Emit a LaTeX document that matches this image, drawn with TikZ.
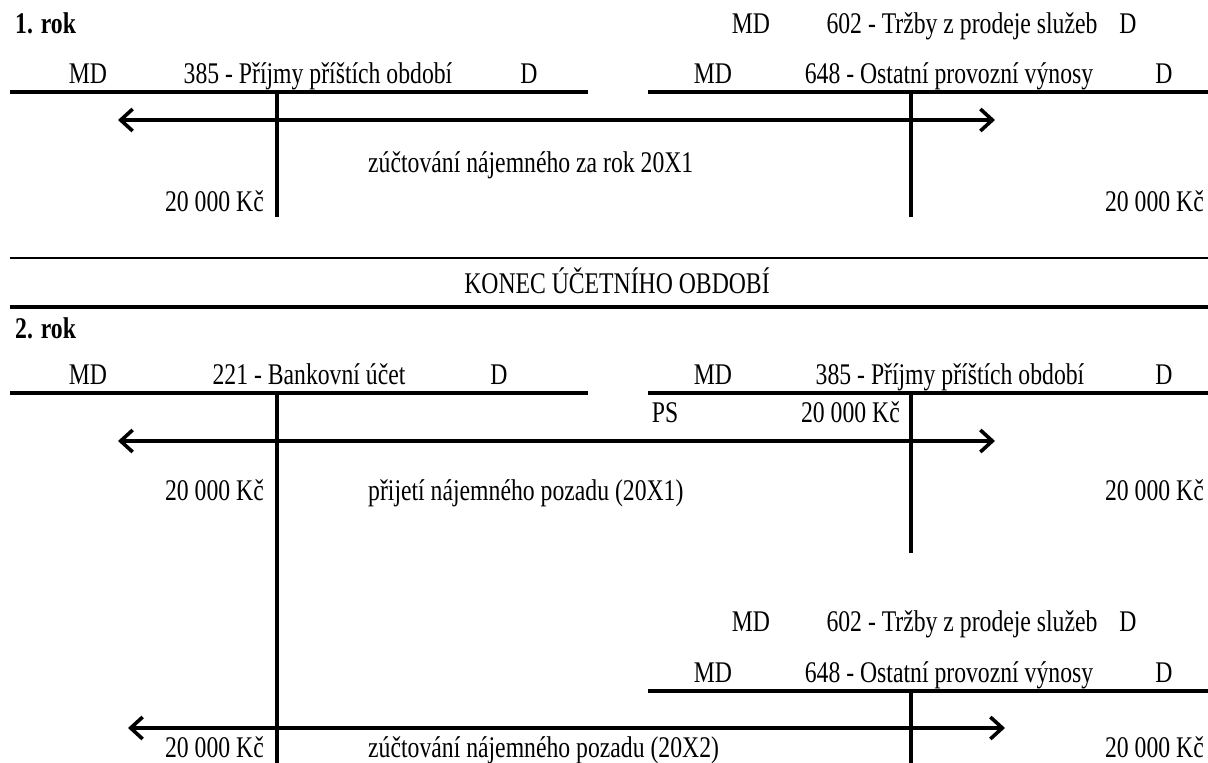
\documentclass[tikz,border=0pt]{standalone}
\usepackage{fontspec}
\setmainfont[FakeStretch=0.79]{Liberation Serif}
\usetikzlibrary{arrows.meta}
\begin{document}
\begin{tikzpicture}[x=1pt,y=-1pt,
  txt/.style={font=\fontsize{30}{32}\selectfont, inner sep=0pt, anchor=base},
  txtw/.style={txt, anchor=base west},
  txte/.style={txt, anchor=base east},
  bold/.style={txtw, font=\fontsize{30}{32}\selectfont\bfseries},
  tline/.style={line width=4pt},
  vline/.style={line width=3.2pt},
  flow/.style={line width=4.5pt, {Straight Barb[length=12pt,width=22pt,line width=3.6pt]}-{Straight Barb[length=12pt,width=22pt,line width=3.6pt]}}
]
\useasboundingbox (0,0) rectangle (1208,763);
% ---------- 1. rok ----------
\node[bold] (r1) at (15,33) {1. rok};
\node[txt] (t1md) at (751,33) {MD};
\node[txt] (t1ti) at (962,33) {602 - Tržby z prodeje služeb};
\node[txt] (t1d) at (1128,33) {D};
\node[txt] (a1md) at (88,83) {MD};
\node[txt] (a1ti) at (318,83) {385 - Příjmy příštích období};
\node[txt] (a1d) at (529,83) {D};
\node[txt] (b1md) at (713,83) {MD};
\node[txt] (b1ti) at (949,83) {648 - Ostatní provozní výnosy};
\node[txt] (b1d) at (1164,83) {D};
\draw[tline] (10,92) -- (588,92);
\draw[vline] (277,92) -- (277,217);
\draw[tline] (648,92) -- (1208,92);
\draw[vline] (911,92) -- (911,217);
\coordinate (f1l) at (118,120);
\coordinate (f1r) at (995,120);
\draw[flow] (f1l) -- (f1r);
\node[txtw] (l1) at (368,172) {zúčtování nájemného za rok 20X1};
\node[txte] (v1l) at (264,211) {20 000 Kč};
\node[txte] (v1r) at (1204,211) {20 000 Kč};
% ---------- konec ----------
\draw[line width=1.6pt] (10,258) -- (1208,258);
\node[txt] (konec) at (617,293) {KONEC ÚČETNÍHO OBDOBÍ};
\draw[line width=3.2pt] (10,307) -- (1208,307);
% ---------- 2. rok ----------
\node[bold] (r2) at (15,338) {2. rok};
\node[txt] (a2md) at (88,384) {MD};
\node[txt] (a2ti) at (309,384) {221 - Bankovní účet};
\node[txt] (a2d) at (499,384) {D};
\node[txt] (b2md) at (713,384) {MD};
\node[txt] (b2ti) at (950,384) {385 - Příjmy příštích období};
\node[txt] (b2d) at (1164,384) {D};
\draw[tline] (10,393) -- (588,393);
\draw[vline] (277,393) -- (277,763);
\draw[tline] (648,393) -- (1208,393);
\draw[vline] (911,393) -- (911,553);
\node[txt] (ps) at (665,422) {PS};
\node[txte] (psv) at (900,422) {20 000 Kč};
\coordinate (f2l) at (118,441);
\coordinate (f2r) at (995,441);
\draw[flow] (f2l) -- (f2r);
\node[txte] (v2l) at (264,500) {20 000 Kč};
\node[txtw] (l2) at (368,500) {přijetí nájemného pozadu (20X1)};
\node[txte] (v2r) at (1204,500) {20 000 Kč};
\node[txt] (t3md) at (751,631) {MD};
\node[txt] (t3ti) at (962,631) {602 - Tržby z prodeje služeb};
\node[txt] (t3d) at (1128,631) {D};
\node[txt] (b3md) at (713,682) {MD};
\node[txt] (b3ti) at (949,682) {648 - Ostatní provozní výnosy};
\node[txt] (b3d) at (1164,682) {D};
\draw[tline] (648,691) -- (1208,691);
\draw[vline] (911,691) -- (911,763);
\coordinate (f3l) at (128,728);
\coordinate (f3r) at (1005,728);
\draw[flow] (f3l) -- (f3r);
\node[txte] (v3l) at (264,757) {20 000 Kč};
\node[txtw] (l3) at (368,757) {zúčtování nájemného pozadu (20X2)};
\node[txte] (v3r) at (1204,757) {20 000 Kč};
\end{tikzpicture}
\end{document}
